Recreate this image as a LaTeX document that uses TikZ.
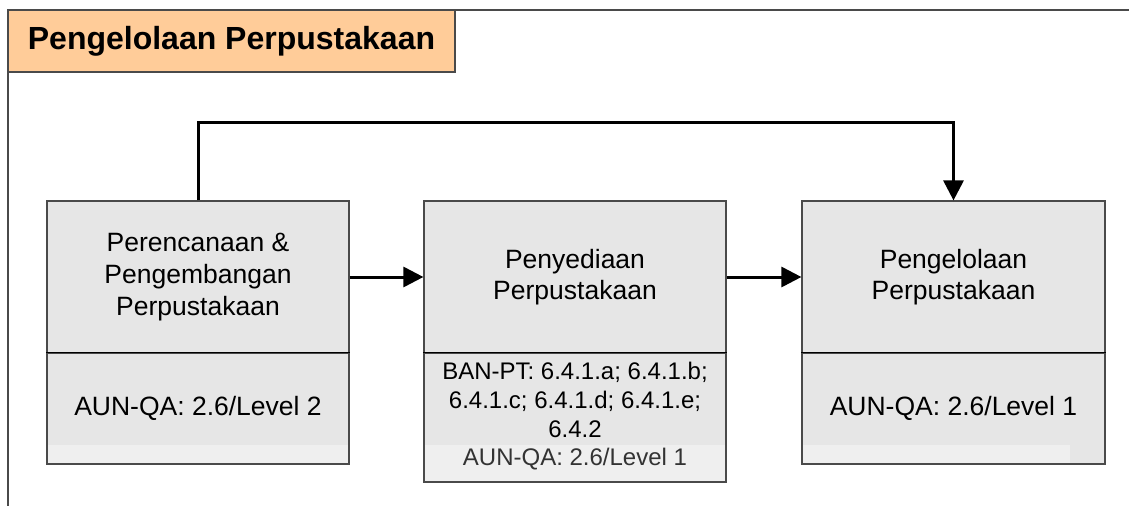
\documentclass[tikz,border=0pt]{standalone}
\usepackage{fontspec}
\setmainfont{Liberation Sans}
\usetikzlibrary{arrows.meta,calc}
\definecolor{boxgray}{HTML}{E6E6E6}
\definecolor{bandgray}{HTML}{EFEFEF}
\definecolor{peach}{HTML}{FFCC99}
\definecolor{edgegray}{HTML}{4A4A4A}
\begin{document}
\begin{tikzpicture}[x=1pt,y=-1pt,
  frame/.style={draw=edgegray,line width=1.3pt},
  titlebox/.style={draw=edgegray,line width=1.3pt,fill=peach,inner sep=0pt,
    minimum width=447pt,minimum height=62pt,
    font=\bfseries\fontsize{32}{38}\selectfont},
  upperbox/.style={draw=edgegray,line width=1.2pt,fill=boxgray,inner sep=0pt,
    minimum width=302pt,minimum height=152pt,align=center,
    font=\fontsize{26.5}{31.7}\selectfont},
  lowerbox/.style={draw=edgegray,line width=1.2pt,fill=boxgray,inner sep=0pt,
    minimum width=302pt,align=center},
  band/.style 2 args={path picture={\fill[bandgray]
      ([xshift=0.6pt,yshift=0.6pt]path picture bounding box.south west) rectangle
      ([xshift=-#1,yshift=#2]path picture bounding box.south east);}},
  lowtext/.style={align=center,inner sep=0pt,font=\fontsize{26.5}{31.7}\selectfont},
  smalltext/.style={align=center,inner sep=0pt,font=\fontsize{24}{29}\selectfont},
  flow/.style={line width=3pt,-{Triangle[length=20pt,width=20pt]}}
]
\useasboundingbox (0,0) rectangle (1129,506);

% outer frame (top and left edges only)
\coordinate (frameTR) at (1129,10);
\coordinate (frameTL) at (8,10);
\coordinate (frameBL) at (8,506);
\draw[frame] (frameTR) -- (frameTL) -- (frameBL);

% title
\node[titlebox] (title) at (231.5,41) {Pengelolaan Perpustakaan};

% stage 1
\node[upperbox] (u1) at (198,277) {Perencanaan \&\\Pengembangan\\Perpustakaan};
\node[lowerbox,minimum height=111pt,band={0.6pt}{19pt}] (l1) at (198,408.5) {};
\node[lowtext] (t1) at (198,408) {AUN-QA: 2.6/Level 2};
\draw[line width=1.2pt] (l1.north west) -- (l1.north east);

% stage 2
\node[upperbox] (u2) at (575,277) {Penyediaan\\Perpustakaan};
\node[lowerbox,minimum height=129pt,band={0.6pt}{37pt}] (l2) at (575,417.5) {};
\node[smalltext] (t2) at (575,400) {BAN-PT: 6.4.1.a; 6.4.1.b;\\6.4.1.c; 6.4.1.d; 6.4.1.e;\\6.4.2};
\node[smalltext,text=black!80] (t2b) at (575,459) {AUN-QA: 2.6/Level 1};
\draw[line width=1.2pt] (l2.north west) -- (l2.north east);

% stage 3
\node[upperbox,minimum width=303pt] (u3) at (953.5,277) {Pengelolaan\\Perpustakaan};
\node[lowerbox,minimum width=303pt,minimum height=111pt,band={35pt}{19pt}] (l3) at (953.5,408.5) {};
\node[lowtext] (t3) at (953.5,408) {AUN-QA: 2.6/Level 1};
\draw[line width=1.2pt] (l3.north west) -- (l3.north east);

% connectors
\draw[flow] (u1.east) -- (u2.west);
\draw[flow] (u2.east) -- (u3.west);
\draw[flow] (u1.north) -- ++(0,-78) -| (u3.north);
\end{tikzpicture}
\end{document}
